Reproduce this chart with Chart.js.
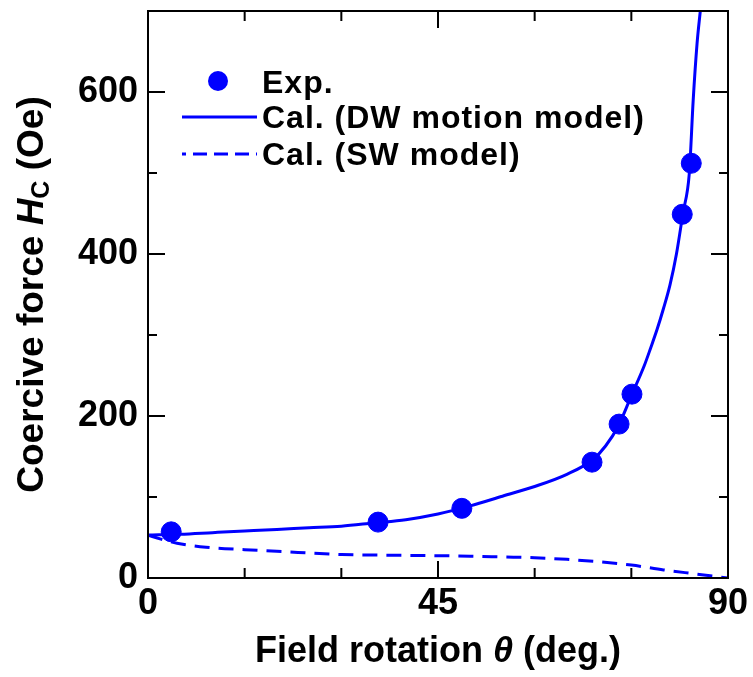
<!DOCTYPE html>
<html>
<head>
<meta charset="utf-8">
<script src="https://cdn.jsdelivr.net/npm/chart.js@4/dist/chart.umd.min.js"></script>
<style>
  html, body { margin: 0; padding: 0; background: #fff; }
  #wrap { width: 753px; height: 677px; }
</style>
</head>
<body>
<div id="wrap"><canvas id="hcChart" width="753" height="677"></canvas></div>
<script>
// measured points (Exp.)
const expTheta = [3.6, 35.7, 48.7, 68.9, 73.1, 75.1, 82.9, 84.3];
const expHc = [57, 69, 86, 143, 190, 227, 449, 512];

// DW motion model curve
const dwTheta = [0, 5, 10, 15, 20, 25, 30, 35, 40, 45, 50, 55, 60, 65, 69, 71, 73, 75, 77, 78, 79, 80, 81, 82, 83, 84, 84.6, 85.2, 85.7];
const dwHc = [53, 54, 56, 58, 60, 62, 64, 68, 72, 79, 89, 101, 113, 128, 146, 163, 188, 225, 262, 284, 307, 333, 362, 400, 450, 500, 590, 660, 700];

// SW model curve
const swTheta = [0, 2, 4.5, 9, 15, 20, 30, 40, 50, 55, 60, 65, 70, 75, 80, 85, 88, 90];
const swHc = [53, 48, 43, 38, 35, 33, 29, 28, 27, 26, 25, 23, 20, 16, 10, 5, 2, 0];

const xTickLabels = [0, 45, 90];
const yTickLabels = [0, 200, 400, 600];

const BLUE = '#0000ff';
const FONT = '"Liberation Sans", Arial, Helvetica, sans-serif';

function toPoints(xs, ys) {
    return xs.map((x, i) => ({ x: x, y: ys[i] }));
}

// frame, inward ticks on all four sides
const framePlugin = {
    id: 'frame',
    afterDraw(chart) {
        const ctx = chart.ctx;
        const area = chart.chartArea;
        const xs = chart.scales.x;
        const ys = chart.scales.y;
        ctx.save();
        ctx.strokeStyle = '#000';
        ctx.lineWidth = 2;
        ctx.strokeRect(area.left, area.top, area.right - area.left, area.bottom - area.top);
        ctx.beginPath();
        xs.ticks.forEach(t => {
            const px = xs.getPixelForValue(t.value);
            const len = xTickLabels.includes(t.value) ? 17 : 10;
            ctx.moveTo(px, area.bottom);
            ctx.lineTo(px, area.bottom - len);
            ctx.moveTo(px, area.top);
            ctx.lineTo(px, area.top + len);
        });
        ys.ticks.forEach(t => {
            const py = ys.getPixelForValue(t.value);
            const len = yTickLabels.includes(t.value) ? 17 : 9;
            ctx.moveTo(area.left, py);
            ctx.lineTo(area.left + len, py);
            ctx.moveTo(area.right, py);
            ctx.lineTo(area.right - len, py);
        });
        ctx.stroke();
        ctx.restore();
    }
};

// axis titles with italic symbol / subscript
const titlePlugin = {
    id: 'titles',
    afterDraw(chart) {
        const ctx = chart.ctx;
        const area = chart.chartArea;
        ctx.save();
        ctx.fillStyle = '#000';
        ctx.textBaseline = 'alphabetic';

        // x title
        const xParts = [
            { t: 'Field rotation ', f: 'bold 36px ' + FONT },
            { t: 'θ', f: 'italic bold 36px ' + FONT },
            { t: ' (deg.)', f: 'bold 36px ' + FONT }
        ];
        let w = 0;
        xParts.forEach(p => { ctx.font = p.f; p.w = ctx.measureText(p.t).width; w += p.w; });
        let x = (area.left + area.right) / 2 - w / 2;
        xParts.forEach(p => { ctx.font = p.f; ctx.fillText(p.t, x, 662); x += p.w; });

        // y title
        ctx.translate(43, (area.top + area.bottom) / 2);
        ctx.rotate(-Math.PI / 2);
        const yParts = [
            { t: 'Coercive force ', f: 'bold 37px ' + FONT, dy: 0 },
            { t: 'H', f: 'italic bold 37px ' + FONT, dy: 0 },
            { t: 'C', f: 'bold 25px ' + FONT, dy: 6 },
            { t: ' (Oe)', f: 'bold 37px ' + FONT, dy: 0 }
        ];
        w = 0;
        yParts.forEach(p => { ctx.font = p.f; p.w = ctx.measureText(p.t).width; w += p.w; });
        x = -w / 2;
        yParts.forEach(p => { ctx.font = p.f; ctx.fillText(p.t, x, p.dy); x += p.w; });
        ctx.restore();
    }
};

// legend in the upper left of the plot
const legendPlugin = {
    id: 'figLegend',
    afterDraw(chart) {
        const ctx = chart.ctx;
        const ds = chart.data.datasets;
        ctx.save();
        ctx.font = 'bold 32px ' + FONT;
        ctx.letterSpacing = '1px';
        ctx.fillStyle = '#000';
        ctx.textBaseline = 'middle';
        ctx.textAlign = 'left';

        // Exp.
        ctx.beginPath();
        ctx.fillStyle = ds[0].backgroundColor;
        ctx.arc(218, 81, ds[0].pointRadius, 0, Math.PI * 2);
        ctx.fill();
        ctx.fillStyle = '#000';
        ctx.fillText('Exp.', 262, 84);

        // DW line
        ctx.strokeStyle = ds[1].borderColor;
        ctx.lineWidth = ds[1].borderWidth;
        ctx.beginPath();
        ctx.moveTo(182, 117);
        ctx.lineTo(257, 117);
        ctx.stroke();
        ctx.fillText('Cal. (DW motion model)', 262, 119);

        // SW line
        ctx.strokeStyle = ds[2].borderColor;
        ctx.lineWidth = ds[2].borderWidth;
        ctx.setLineDash([14, 7]);
        ctx.lineDashOffset = 10;
        ctx.beginPath();
        ctx.moveTo(182, 154);
        ctx.lineTo(257, 154);
        ctx.stroke();
        ctx.setLineDash([]);
        ctx.fillText('Cal. (SW model)', 262, 156);
        ctx.restore();
    }
};

const tickFont = { family: FONT, size: 36, weight: 'bold' };

new Chart(document.getElementById('hcChart'), {
    type: 'scatter',
    data: {
        datasets: [
            {
                label: 'Exp.',
                data: toPoints(expTheta, expHc),
                backgroundColor: BLUE,
                borderColor: BLUE,
                pointRadius: 10,
                pointHoverRadius: 10,
                showLine: false,
                order: 0
            },
            {
                label: 'Cal. (DW motion model)',
                data: toPoints(dwTheta, dwHc),
                borderColor: BLUE,
                borderWidth: 3,
                pointRadius: 0,
                showLine: true,
                cubicInterpolationMode: 'monotone',
                order: 1
            },
            {
                label: 'Cal. (SW model)',
                data: toPoints(swTheta, swHc),
                borderColor: BLUE,
                borderWidth: 3,
                borderDash: [15, 9],
                pointRadius: 0,
                showLine: true,
                cubicInterpolationMode: 'monotone',
                order: 2
            }
        ]
    },
    options: {
        responsive: false,
        animation: false,
        devicePixelRatio: 1,
        layout: { padding: { top: 9, right: 25, left: 0, bottom: 0 } },
        plugins: {
            legend: { display: false },
            tooltip: { enabled: false }
        },
        scales: {
            x: {
                type: 'linear',
                min: 0,
                max: 90,
                grid: { display: false, drawTicks: false },
                border: { display: false },
                ticks: {
                    stepSize: 15,
                    autoSkip: false,
                    maxRotation: 0,
                    padding: 4,
                    color: '#000',
                    font: tickFont,
                    callback: v => xTickLabels.includes(v) ? String(v) : ''
                },
                afterFit: s => { s.height = 99; s.paddingLeft = 0; s.paddingRight = 0; }
            },
            y: {
                type: 'linear',
                min: 0,
                max: 700,
                grid: { display: false, drawTicks: false },
                border: { display: false },
                ticks: {
                    stepSize: 100,
                    autoSkip: false,
                    padding: 10,
                    color: '#000',
                    font: tickFont,
                    callback: v => yTickLabels.includes(v) ? String(v) : ''
                },
                afterFit: s => { s.width = 148; s.paddingTop = 0; s.paddingBottom = 0; }
            }
        }
    },
    plugins: [framePlugin, titlePlugin, legendPlugin]
});
</script>
</body>
</html>
